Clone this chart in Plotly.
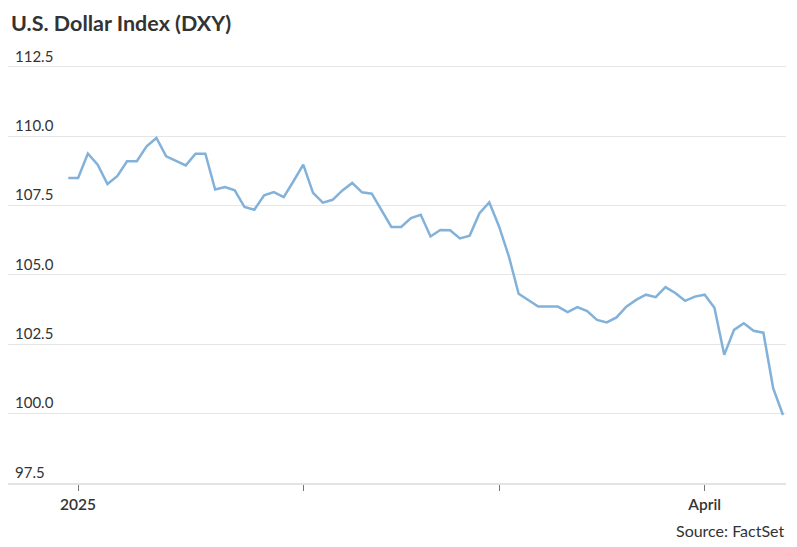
import pandas as pd
import plotly.graph_objects as go

# Trading days (weekdays) from 31 Dec 2024 to 11 Apr 2025
dates = [d.strftime("%Y-%m-%d") for d in pd.bdate_range("2024-12-31", "2025-04-11")]

dxy = [
    108.50, 108.50, 109.38, 108.98, 108.28, 108.56, 109.10, 109.10, 109.64, 109.94,
    109.28, 109.10, 108.95, 109.37, 109.37, 108.08, 108.17, 108.05, 107.45, 107.35,
    107.87, 107.99, 107.81, 108.38, 108.98, 107.96, 107.61, 107.71, 108.05, 108.32,
    107.98, 107.93, 107.33, 106.73, 106.73, 107.05, 107.17, 106.39, 106.62, 106.61,
    106.32, 106.42, 107.23, 107.62, 106.75, 105.67, 104.32, 104.08, 103.86, 103.86,
    103.86, 103.66, 103.84, 103.70, 103.38, 103.29, 103.47, 103.86, 104.10, 104.29,
    104.20, 104.56, 104.35, 104.07, 104.22, 104.29, 103.82, 102.12, 103.02, 103.26,
    102.99, 102.92, 100.92, 99.95,
]

y_ticks = [97.5, 100.0, 102.5, 105.0, 107.5, 110.0, 112.5]
y_tick_labels = ["97.5", "100.0", "102.5", "105.0", "107.5", "110.0", "112.5"]
x_tick_dates = ["2025-01-01", "2025-02-03", "2025-03-03", "2025-04-01"]
x_tick_labels = ["2025", "", "", "April"]

W, H = 789, 539  # page body has an 8px margin
T, B, L, R = 34, 64, 0, 11
PH = H - T - B
PW = W - L - R

fig = go.Figure()
fig.add_trace(go.Scatter(
    x=dates, y=dxy, mode="lines",
    line=dict(color="#82b1da", width=2.5),
    hoverinfo="x+y",
))

fig.update_layout(
    width=W, height=H,
    margin=dict(l=L, r=R, t=T, b=B, autoexpand=False),
    paper_bgcolor="white", plot_bgcolor="white",
    showlegend=False,
    font=dict(family="Lato, sans-serif", color="#333333"),
    xaxis=dict(
        type="category",
        range=[-6.16, 73.31],
        tickmode="array", tickvals=x_tick_dates, ticktext=x_tick_labels,
        ticks="outside", ticklen=6, tickwidth=1, tickcolor="#777777",
        showgrid=False, zeroline=False,
        showline=True, linecolor="#e3e3e3", linewidth=2,
        tickfont=dict(size=15.5, color="#333333", family="Lato, sans-serif", weight=600),
    ),
    yaxis=dict(
        range=[97.5, 113.4],
        tickmode="array", tickvals=y_ticks, ticktext=y_tick_labels,
        ticklabelposition="inside top", ticklabelstandoff=4,
        showgrid=True, gridcolor="#e6e6e6", gridwidth=1,
        zeroline=False, showline=False, ticks="",
        tickfont=dict(size=15, color="#333333", family="Lato, sans-serif"),
    ),
)

fig.add_annotation(
    text="<b>U.S. Dollar Index (DXY)</b>", xref="paper", yref="paper",
    x=1 / PW, y=1 + (T - 0.5) / PH, xanchor="left", yanchor="top", showarrow=False,
    font=dict(size=21.5, color="#333333", family="Lato, sans-serif"),
)

fig.add_annotation(
    text="Source: FactSet", xref="paper", yref="paper",
    x=1, y=-0.1066, xanchor="right", yanchor="middle", showarrow=False,
    font=dict(size=16, color="#333333", family="Lato, sans-serif"),
)

fig.write_html("out.html")
